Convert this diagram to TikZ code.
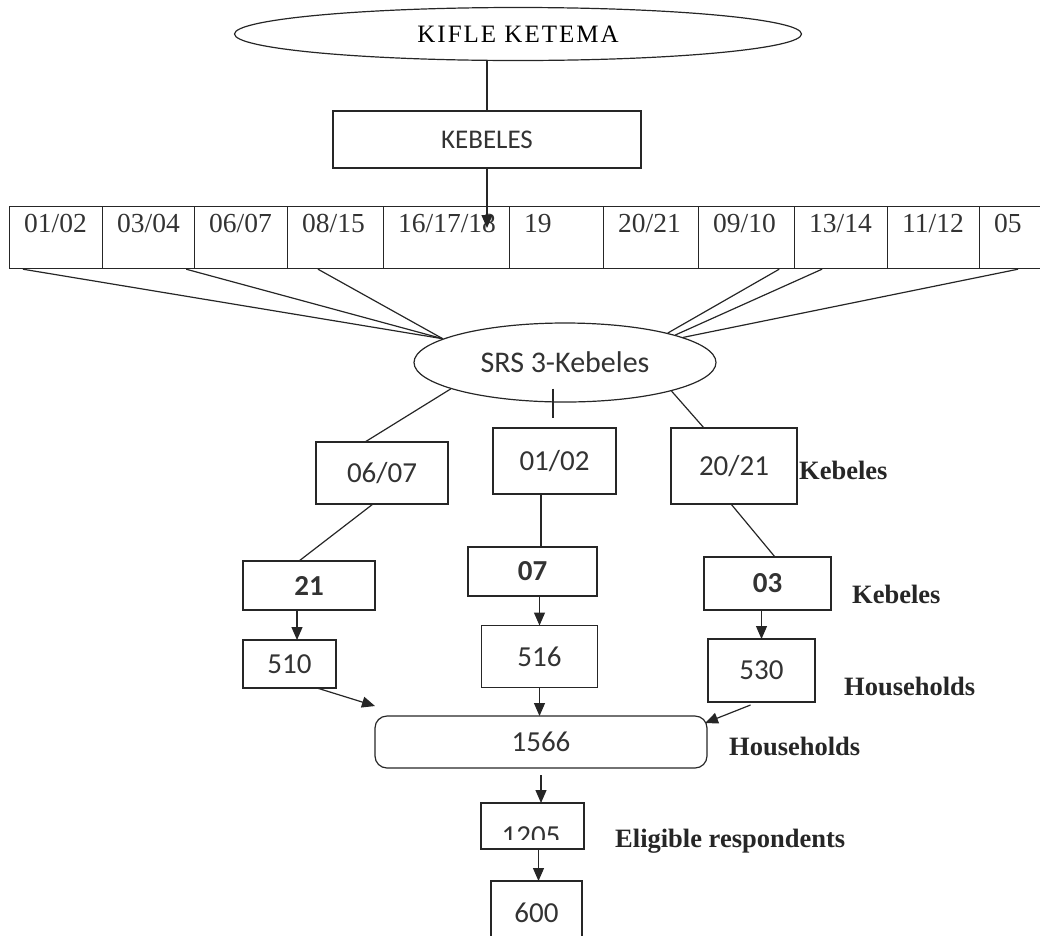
\documentclass[tikz,border=0pt]{standalone}
\usepackage{fontspec}
\setmainfont{Liberation Serif}
\newfontfamily\calib{Carlito}
\usetikzlibrary{shapes.geometric,arrows.meta,calc}

\tikzset{
  box/.style={draw=black!85, line width=1.2pt, inner sep=0pt, outer sep=0pt, text=black!80, font=\calib\fontsize{29}{32}\selectfont},
  boldbox/.style={box, font=\calib\bfseries\fontsize{29}{32}\selectfont},
  oval/.style={ellipse, draw=black!85, line width=1.2pt, inner sep=0pt},
  cell/.style={draw=black!85, line width=1.2pt, anchor=north west, minimum height=62pt, inner sep=0pt},
  celltext/.style={anchor=base west, inner sep=0pt, text=black!80, font=\fontsize{27.5}{30}\selectfont},
  lab/.style={anchor=base west, inner sep=0pt, text=black!85, font=\bfseries\fontsize{26.5}{29}\selectfont},
  link/.style={black!85, line width=1.2pt},
  arr/.style={link, -{Triangle[length=13pt,width=11pt]}},
}

\begin{document}
\begin{tikzpicture}[x=1pt, y=-1pt]
	\useasboundingbox (0,0) rectangle (1040,935);
	% sub city and its kebeles
	\node[oval, minimum width=567pt, minimum height=53pt, font=\fontsize{25}{28}\selectfont\addfontfeatures{LetterSpace=8}] (kifle) at (518,34) {KIFLE KETEMA};
	\node[box, minimum width=308pt, minimum height=57pt, font=\calib\fontsize{27}{30}\selectfont] (kebeles) at (487,139.5) {KEBELES};
	\draw[link] (kebeles.north) -- (kebeles.north |- kifle.south);
	\foreach \x/\w/\t [count=\i] in {9/93/{01/02}, 102/92/{03/04}, 194/93/{06/07}, 287/96/{08/15}, 383/126/{16/17/18}, 509/94/19, 603/95/{20/21}, 698/96/{09/10}, 794/93/{13/14}, 887/92/{11/12}, 979/71/05}
	{
		\node[cell, minimum width=\w pt] (c\i) at (\x,206) {};
		\node[celltext] (t\i) at ([xshift=15pt,yshift=-26pt]c\i.north west) {\t};
	}
	\coordinate (drop) at (487,228);
	\draw[arr] (kebeles.south) -- (drop);
	% simple random sample
	\node[oval, minimum width=302pt, minimum height=79pt, font=\calib\fontsize{30}{32}\selectfont, text=black!80] (srs) at (565,362.5) {SRS 3-Kebeles};
	\draw[link] ([xshift=14pt]c1.south west) -- (srs.169);
	\draw[link] ([xshift=-9pt]c2.south east) -- (srs.169);
	\draw[link] ([xshift=31pt]c4.south west) -- (srs.169);
	\draw[link] ([xshift=-16pt]c8.south east) -- (srs.16);
	\draw[link] ([xshift=28pt]c9.south west) -- (srs.14);
	\draw[link] ([xshift=39pt]c11.south west) -- (srs.12);
	% selected kebeles
	\node[box, minimum width=132pt, minimum height=62pt] (k1) at (382,473) {06/07};
	\node[box, minimum width=123pt, minimum height=66pt] (k2) at (554.5,461) {01/02};
	\node[box, minimum width=126pt, minimum height=76pt] (k3) at (734,466) {20/21};
	\draw[link] (srs.193) -- ([xshift=-17pt]k1.north);
	\draw[link] ([xshift=-12pt,yshift=14pt]srs.south) -- ([xshift=-12pt,yshift=-15pt]srs.south);
	\draw[link] (srs.345) -- ([xshift=-30pt]k3.north);
	\node[boldbox, minimum width=132pt, minimum height=49pt] (s1) at (309,585.5) {21};
	\node[boldbox, minimum width=129pt, minimum height=49pt] (s2) at (532.5,571.5) {07};
	\node[boldbox, minimum width=127pt, minimum height=53pt] (s3) at (767.5,583.5) {03};
	\draw[link] ([xshift=-9pt]k1.south) -- ([xshift=-10pt]s1.north);
	\draw[link] ([xshift=8.5pt]s2.north |- k2.south) -- ([xshift=8.5pt]s2.north);
	\draw[link] ([xshift=-3pt]k3.south) -- ([xshift=7.5pt]s3.north);
	% households
	\node[box, minimum width=93pt, minimum height=48pt] (h1) at (289.5,664) {510};
	\node[box, minimum width=116pt, minimum height=62pt] (h2) at (539.5,656.5) {516};
	\node[box, minimum width=107pt, minimum height=63pt] (h3) at (761.5,670.5) {530};
	\draw[arr] ([xshift=-12pt]s1.south) -- ([xshift=-12pt]s1.south |- h1.north);
	\draw[arr] (h2.north |- s2.south) -- (h2.north);
	\draw[arr] (h3.north |- s3.south) -- (h3.north);
	\node[box, rounded corners=12pt, minimum width=332pt, minimum height=52pt] (total) at (541,742) {1566};
	\draw[arr] ([xshift=-19pt]h1.south east) -- ([yshift=10pt]total.north west);
	\draw[arr] (h2.south) -- (h2.south |- total.north);
	\draw[arr] ([xshift=-11pt,yshift=-3pt]h3.south) -- ([xshift=-2pt,yshift=-7pt]total.north east);
	% respondents
	\node[box, minimum width=103pt, minimum height=46pt] (cut) at (532.5,826) {};
	\begin{scope}
		\clip (cut.north west) rectangle ([yshift=10pt]cut.south east);
		\node[box, draw=none, anchor=base] (cuttext) at (531,845) {1205};
	\end{scope}
	\draw[arr] ([yshift=-7pt]total.south) -- (total.south |- cut.north);
	\node[box, minimum width=91pt, minimum height=64pt] (final) at (536.5,913) {600};
	\draw[arr] ([xshift=6pt]cut.south) -- ([xshift=6pt]cut.south |- final.north);
	% level names
	\node[lab] (lk1) at (799,479) {Kebeles};
	\node[lab] (lk2) at (852,603) {Kebeles};
	\node[lab] (lh1) at (844,695) {Households};
	\node[lab] (lh2) at (729,755) {Households};
	\node[lab] (le) at (615,847) {Eligible respondents};
\end{tikzpicture}
\end{document}
